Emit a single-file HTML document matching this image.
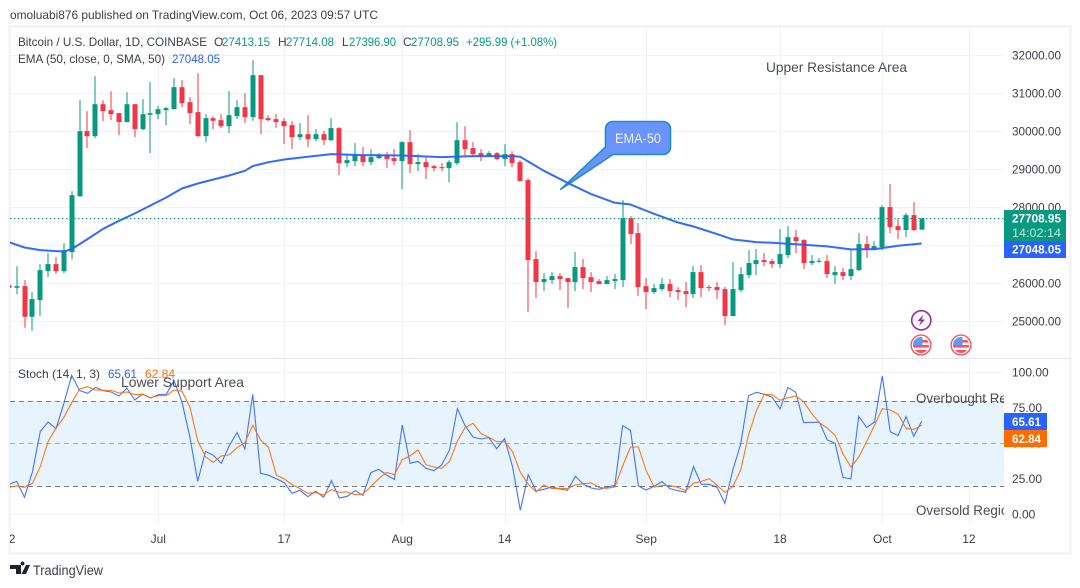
<!DOCTYPE html>
<html lang="en">
<head>
<meta charset="utf-8">
<title>BTC/USD chart</title>
<style>
html,body{margin:0;padding:0;background:#fff;width:1080px;height:588px;overflow:hidden}
svg{display:block}
text{font-family:"Liberation Sans",sans-serif;font-size:12px;fill:#3b3e48}
</style>
</head>
<body>
<svg id="chart" xmlns="http://www.w3.org/2000/svg" width="1080" height="588" viewBox="0 0 1080 588">
  <defs>
    <clipPath id="clip-main"><rect x="10" y="27" width="994" height="331"/></clipPath>
    <clipPath id="clip-stoch"><rect x="10" y="359" width="994" height="166"/></clipPath>
    <clipPath id="clip-time"><rect x="10" y="525" width="994" height="28"/></clipPath>
    <clipPath id="clip-flag-a"><circle cx="921" cy="345" r="8"/></clipPath>
    <clipPath id="clip-flag-b"><circle cx="961" cy="345" r="8"/></clipPath>
  </defs>

  <text x="10" y="19" textLength="368" lengthAdjust="spacingAndGlyphs">omoluabi876 published on TradingView.com, Oct 06, 2023 09:57 UTC</text>

  <rect x="9.5" y="26.5" width="1061" height="527" fill="#fff" stroke="#eff1f7" stroke-width="2"/>

  <g id="grid"></g>

  <rect id="stoch-band" fill="#e8f4fd"/>
  <g id="stoch-levels"></g>

  <line x1="10" x2="1070" y1="358.5" y2="358.5" stroke="#e4e4f0" stroke-width="1"/>

  <g id="candles" clip-path="url(#clip-main)"></g>

  <g>
    <path d="M613 121.5H663a7.5 7.5 0 0 1 7.5 7.5V147a7.5 7.5 0 0 1-7.5 7.5H613L560.7 189.3L605.5 147V129a7.5 7.5 0 0 1 7.5-7.5Z" fill="#6b93fd" stroke="#1e8fc2" stroke-width="1.6" stroke-linejoin="round"/>
    <text x="638" y="143" text-anchor="middle" textLength="46" lengthAdjust="spacingAndGlyphs" style="font-size:14px;fill:#eef3ff">EMA-50</text>
  </g>

  <path id="ema-line" fill="none" stroke="#2962ff" stroke-width="2" stroke-linejoin="round" clip-path="url(#clip-main)" opacity=".95"/>
  <line id="last-price-line" x1="10" x2="1004" stroke="#089981" stroke-width="1" stroke-dasharray="1.4 2.6"/>

  <path id="stoch-k" fill="none" stroke="#2962ff" stroke-width="1.1" opacity=".88" clip-path="url(#clip-stoch)"/>
  <path id="stoch-d" fill="none" stroke="#ff6d00" stroke-width="1.1" opacity=".92" clip-path="url(#clip-stoch)"/>

  <g>
    <text x="18" y="46" textLength="189" lengthAdjust="spacingAndGlyphs">Bitcoin / U.S. Dollar, 1D, COINBASE</text>
    <text x="214" y="46">O</text>
    <text x="222" y="46" textLength="48" lengthAdjust="spacingAndGlyphs" style="fill:#089981">27413.15</text>
    <text x="278" y="46">H</text>
    <text x="286" y="46" textLength="48" lengthAdjust="spacingAndGlyphs" style="fill:#089981">27714.08</text>
    <text x="342" y="46">L</text>
    <text x="349" y="46" textLength="47" lengthAdjust="spacingAndGlyphs" style="fill:#089981">27396.90</text>
    <text x="403" y="46">C</text>
    <text x="411" y="46" textLength="48" lengthAdjust="spacingAndGlyphs" style="fill:#089981">27708.95</text>
    <text x="466" y="46" textLength="91" lengthAdjust="spacingAndGlyphs" style="fill:#089981">+295.99 (+1.08%)</text>
    <text x="18" y="63" textLength="147" lengthAdjust="spacingAndGlyphs">EMA (50, close, 0, SMA, 50)</text>
    <text x="172" y="63" textLength="48" lengthAdjust="spacingAndGlyphs" style="fill:#2962ff">27048.05</text>
    <text x="18" y="378" textLength="82" lengthAdjust="spacingAndGlyphs">Stoch (14, 1, 3)</text>
    <text x="108" y="378" textLength="29" lengthAdjust="spacingAndGlyphs" style="fill:#2962ff">65.61</text>
    <text x="145" y="378" textLength="30" lengthAdjust="spacingAndGlyphs" style="fill:#ff6d00">62.84</text>
  </g>

  <text x="766" y="72" textLength="141" lengthAdjust="spacingAndGlyphs" style="font-size:14px;fill:#4a4d57">Upper Resistance Area</text>
  <text x="121" y="387" textLength="123" lengthAdjust="spacingAndGlyphs" style="font-size:14px;fill:#4a4d57">Lower Support Area</text>
  <g clip-path="url(#clip-stoch)">
    <text x="916" y="403" style="font-size:13.4px;fill:#4a4d57">Overbought Region</text>
    <text x="916" y="515" style="font-size:13.4px;fill:#4a4d57">Oversold Region</text>
  </g>

  <g>
    <circle cx="921.3" cy="320.3" r="9.6" fill="#fff" stroke="#9c27b0" stroke-width="1.6"/>
    <path d="M923.5 314.5L917.5 321H921L919 326L925 319.5H921.5Z" fill="#9c27b0"/>
  </g>
  <g>
    <circle cx="921" cy="345" r="9.9" fill="#fff" stroke="#f7525f" stroke-width="1.4"/>
    <g clip-path="url(#clip-flag-a)">
      <rect x="913" y="337" width="16" height="16" fill="#fff"/>
      <rect x="913" y="340" width="16" height="2.6" fill="#f7525f"/>
      <rect x="913" y="345" width="16" height="2.6" fill="#f7525f"/>
      <rect x="913" y="350" width="16" height="3" fill="#f7525f"/>
      <rect x="913" y="337" width="9.5" height="8" fill="#5b9cf6"/>
    </g>
  </g>
  <g>
    <circle cx="961" cy="345" r="9.9" fill="#fff" stroke="#f7525f" stroke-width="1.4"/>
    <g clip-path="url(#clip-flag-b)">
      <rect x="953" y="337" width="16" height="16" fill="#fff"/>
      <rect x="953" y="340" width="16" height="2.6" fill="#f7525f"/>
      <rect x="953" y="345" width="16" height="2.6" fill="#f7525f"/>
      <rect x="953" y="350" width="16" height="3" fill="#f7525f"/>
      <rect x="953" y="337" width="9.5" height="8" fill="#5b9cf6"/>
    </g>
  </g>

  <g id="price-axis"></g>
  <g id="stoch-axis"></g>
  <g id="time-axis" clip-path="url(#clip-time)"></g>

  <g>
    <rect x="1004" y="210" width="62" height="31" fill="#089981"/>
    <text x="1012" y="222.5" textLength="49" lengthAdjust="spacingAndGlyphs" style="fill:#fff;font-weight:bold">27708.95</text>
    <text x="1012" y="237" textLength="49" lengthAdjust="spacingAndGlyphs" style="fill:#c3e6dd">14:02:14</text>
    <rect x="1004" y="241" width="62" height="17" fill="#2962ff"/>
    <text x="1012" y="253.5" textLength="49" lengthAdjust="spacingAndGlyphs" style="fill:#fff;font-weight:bold">27048.05</text>
    <rect x="1004" y="413" width="43" height="17" fill="#2962ff"/>
    <text x="1012" y="426" textLength="29" lengthAdjust="spacingAndGlyphs" style="fill:#fff;font-weight:bold">65.61</text>
    <rect x="1004" y="430" width="43" height="17" fill="#ff6d00"/>
    <text x="1012" y="443" textLength="29" lengthAdjust="spacingAndGlyphs" style="fill:#fff;font-weight:bold">62.84</text>
  </g>

  <g>
    <path d="M10 565H21V574H16V569H10ZM22.5 565.5a2 2 0 1 1 .01 0ZM26 565H30L26 574H21.5Z" fill="#1e222d"/>
    <text x="33" y="575" textLength="70" lengthAdjust="spacingAndGlyphs" style="font-size:13.5px;fill:#3b3e48">TradingView</text>
  </g>
</svg>

<script>
// Daily candles from 12 Jun to 6 Oct 2023
const firstDayOffset = -19;
const opens = [25952,25882,25926,25119,25557,26320,26505,26320,26820,28294,
30004,29872,30714,30556,30477,30241,30714,30057,30434,
30451,30556,30583,31162,30767,30504,29872,30346,30293,30135,
30399,30635,30372,31477,30346,30320,30267,30162,29846,29925,
29794,29925,29767,30083,29162,29215,29364,29189,29294,29373,
29294,29215,29715,29136,29189,29083,29057,29031,29162,29767,
29557,29425,29364,29425,29268,29399,29189,28715,26637,26032,
26084,26190,26137,26032,26426,26163,26058,25979,26058,26084,
27716,27321,25926,25769,25848,25979,25821,25795,25716,26295,
25900,25900,25848,25137,25821,26216,26505,26611,26585,26506,
26743,27216,27137,26532,26567,26585,26216,26295,26190,26348,
27032,26874,26953,28006,27506,27400,27795,27413.15];
const highs = [25952,26452,26084,25768,26505,26794,26689,27057,28425,30819,
30530,31451,30819,31056,30477,31030,30714,30846,31293,
30662,30644,31398,31346,30898,31530,30451,30399,30451,31056,
30819,31004,31872,31477,30425,30452,30346,30267,30215,30425,
30057,30004,30346,30110,29373,29689,29583,29531,29425,29452,
29531,29741,30031,29399,29320,29110,29162,29241,30241,30136,
29715,29531,29478,29452,29662,29478,29241,28768,26847,26268,
26295,26268,26137,26821,26637,26295,26111,26190,26242,28189,
27768,27584,26137,25979,26137,26111,25900,26032,26453,26479,
25953,26032,25900,26558,26426,26874,26900,26795,26637,27427,
27506,27400,27164,26743,26664,26743,26453,26401,26874,27321,
27243,27111,28058,28611,27690,27848,28137,27714.08];
const lows = [25882,25715,24830,24751,25137,26163,26242,26268,26636,28267,
29557,29820,30267,30293,29899,30241,29846,30030,29425,
30320,30162,30583,30635,30188,29846,29714,30057,30083,29951,
30320,30214,30276,29925,30267,30083,29662,29531,29767,29583,
29741,29636,29741,28847,29057,29083,29083,29110,29268,29031,
29110,28478,28899,28952,28741,28952,28952,28662,29110,29347,
29320,29215,29355,29241,29083,29057,28689,25242,25611,25795,
25979,25821,25348,25795,25848,25769,25979,25979,25848,25900,
27031,25663,25321,25716,25795,25637,25558,25374,25611,25637,
25795,25584,24900,25137,25769,26137,26216,26453,26401,26401,
26664,26795,26374,26480,26532,26138,25980,26085,26085,26322,
26664,26874,26874,27321,27164,27216,27374,27396.90];
const closes = [25882,25926,25119,25584,26347,26505,26320,26873,28320,30004,
29872,30714,30530,30451,30241,30714,30057,30451,30477,
30583,30609,31162,30741,30477,29872,30346,30276,30135,30425,
30635,30372,31477,30320,30294,30241,30136,29846,29925,29794,
29925,29767,30083,29162,29241,29373,29189,29320,29373,29268,
29215,29715,29136,29189,29057,29031,29040,29189,29767,29531,
29399,29355,29425,29268,29399,29162,28689,26610,26032,26111,
26190,26111,26032,26426,26137,26032,25979,26084,26111,27716,
27295,25900,25769,25874,25979,25795,25769,25716,26295,25874,
25874,25821,25137,25848,26242,26532,26610,26558,26506,26769,
27216,27111,26532,26585,26594,26243,26295,26190,26374,27032,
26874,26979,28006,27479,27400,27795,27400,27708.95];

// EMA-50 readings: day offset from 1 Jul and EMA value
const emaDays = [-19,-17,-15,-13,-12,-11,-9,-7,-5,-3,-1,1,3,5,7,9,11,12,13,14,16,19,22,26,31,36,40,45,46,47,49,52,55,58,60,63,66,68,71,73,76,78,82,85,88,91,94,97];
const emaValues = [27083,26943,26873,26847,26838,26899,27162,27434,27645,27838,28048,28259,28495,28627,28732,28837,28960,29083,29136,29188,29259,29329,29399,29373,29364,29320,29347,29347,29329,29206,28961,28645,28347,28119,28075,27830,27602,27496,27295,27154,27084,27067,27015,26971,26892,26901,26988,27048.05];

// Stochastic %K and %D, one reading per candle
const stochK = [21.1,23.2,12.0,29.8,58.4,65.0,60.3,78.2,97.9,87.1,
85.2,89.4,87.1,86.1,83.3,88.9,80.5,84.7,81.9,
84.2,84.5,94.1,79.3,54.7,23.2,44.3,41.5,35.9,48.1,
57.5,46.0,84.5,28.9,27.5,25.1,22.3,14.8,16.9,12.4,
16.2,12.0,23.7,11.5,12.7,16.7,13.4,29.3,31.7,27.7,
24.6,62.9,35.9,37.3,32.4,30.7,34.7,45.3,74.4,62.2,
54.4,53.0,54.0,46.2,53.3,33.6,2.8,27.9,16.4,17.6,
19.2,17.8,16.9,26.7,21.3,18.5,17.6,19.0,20.4,62.4,
59.1,19.9,17.1,19.7,23.0,18.1,16.7,15.5,33.6,21.1,
21.1,19.0,7.7,31.2,49.5,83.5,85.9,84.5,82.4,74.2,
89.4,85.9,64.5,64.8,64.8,52.3,50.0,26.0,24.9,69.0,
61.2,65.0,97.4,58.2,55.4,68.8,54.9,65.61];
const stochD = [19.0,19.9,19.0,21.8,33.6,51.4,60.6,68.3,78.6,88.2,
89.9,87.5,87.3,87.3,85.4,86.1,84.2,84.5,82.1,
83.5,83.5,87.5,86.6,75.8,51.9,40.4,36.6,41.1,41.8,
46.9,50.5,62.7,52.3,47.2,27.5,24.9,20.9,18.1,14.8,
15.3,13.6,17.4,15.5,15.8,13.8,14.3,19.5,25.1,29.6,
27.9,38.5,41.1,45.3,35.0,33.3,32.4,37.1,51.6,61.2,
64.1,56.8,54.2,51.2,51.2,44.1,29.6,21.1,15.8,20.6,
18.1,18.3,18.1,20.6,21.6,22.1,19.0,18.3,19.2,34.0,
47.4,47.4,30.7,19.2,20.2,20.2,19.0,16.7,21.8,23.2,
25.1,20.4,15.5,19.5,31.2,55.9,73.0,84.5,84.2,80.3,
82.1,83.3,79.3,71.1,64.5,60.6,55.6,42.5,33.3,40.2,
51.2,62.7,74.4,73.5,70.4,60.6,59.8,62.84];

// Axis ticks
const priceTicks = [25000,26000,27000,28000,29000,30000,31000,32000];
const stochTicks = [0,25,50,75,100];
const stochLevels = [80,50,20];
const timeTickDays = [-19,0,16,31,44,62,79,92,103];
const timeTickLabels = ['12','Jul','17','Aug','14','Sep','18','Oct','12'];
const lastPrice = 27708.95;

const SVG_NS = 'http://www.w3.org/2000/svg';
const xDay = d => 158.3 + 7.87 * d;
const yPrice = p => 321.3 - (p - 25000) * 0.038;
const yStoch = v => 514.3 - v * 1.42;
const byId = id => document.getElementById(id);

function make(tag, attrs, parent) {
  const el = document.createElementNS(SVG_NS, tag);
  for (const k in attrs) el.setAttribute(k, attrs[k]);
  parent.appendChild(el);
  return el;
}

// Grid
const grid = byId('grid');
priceTicks.forEach(p => {
  const y = Math.round(yPrice(p)) + 0.5;
  const el = make('line', {x1: 10, x2: 1004, y1: y, y2: y, stroke: '#f0f3fa'}, grid);
  
  
});
stochTicks.forEach(v => {
  const y = Math.round(yStoch(v)) + 0.5;
  const el = make('line', {x1: 10, x2: 1004, y1: y, y2: y, stroke: '#f0f3fa'}, grid);
  
  
});
timeTickDays.slice(1).forEach(d => {
  const x = Math.round(xDay(d)) + 0.5;
  const el = make('line', {x1: x, x2: x, y1: 27, y2: 525, stroke: '#f0f3fa'}, grid);
  
  
});

// Stoch band and levels
const band = byId('stoch-band');
band.setAttribute('x', 10);
band.setAttribute('width', 994);
band.setAttribute('y', yStoch(stochLevels[0]));
band.setAttribute('height', yStoch(stochLevels[2]) - yStoch(stochLevels[0]));
stochLevels.forEach(v => {
  const y = Math.round(yStoch(v)) + 0.5;
  const el = make('line', {x1: 10, x2: 1004, y1: y, y2: y, stroke: '#787b86', 'stroke-dasharray': '5 4', 'stroke-opacity': v === 50 ? 0.6 : 1}, byId('stoch-levels'));
  
  
});

// Candles
const candleGroup = byId('candles');
opens.forEach((open, i) => {
  const d = firstDayOffset + i;
  const close = closes[i];
  const color = close >= open ? '#089981' : '#f23645';
  const cx = Math.round(xDay(d));
  const top = yPrice(Math.max(open, close));
  const bottom = yPrice(Math.min(open, close));
  const wick = make('rect', {x: cx - 0.5, y: yPrice(highs[i]), width: 1, height: yPrice(lows[i]) - yPrice(highs[i]), fill: color}, candleGroup);
  
  
  const body = make('rect', {x: cx - 2.5, y: top, width: 5, height: Math.max(bottom - top, 1), fill: color}, candleGroup);
  
  
});

// Lines
const linePath = (xs, ys) => xs.map((x, i) => (i ? 'L' : 'M') + x.toFixed(1) + ' ' + ys[i].toFixed(1)).join('');
byId('ema-line').setAttribute('d', linePath(emaDays.map(xDay), emaValues.map(yPrice)));
const stochX = stochK.map((_, i) => xDay(firstDayOffset + i));
byId('stoch-k').setAttribute('d', linePath(stochX, stochK.map(yStoch)));
byId('stoch-d').setAttribute('d', linePath(stochX, stochD.map(yStoch)));

const lastLine = byId('last-price-line');
lastLine.setAttribute('y1', Math.round(yPrice(lastPrice)) + 0.5);
lastLine.setAttribute('y2', Math.round(yPrice(lastPrice)) + 0.5);

// Axis labels
priceTicks.forEach(p => {
  const el = make('text', {x: 1012, y: yPrice(p) + 4.2, textLength: 49, lengthAdjust: 'spacingAndGlyphs'}, byId('price-axis'));
  
  
  el.textContent = p.toFixed(2);
});
stochTicks.forEach(v => {
  const el = make('text', {x: 1012, y: yStoch(v) + 4.2}, byId('stoch-axis'));
  
  
  el.textContent = v.toFixed(2);
});
timeTickDays.forEach((d, i) => {
  const el = make('text', {x: xDay(d), y: 543, 'text-anchor': 'middle'}, byId('time-axis'));
  
  
  el.textContent = timeTickLabels[i];
});
</script>
</body>
</html>
